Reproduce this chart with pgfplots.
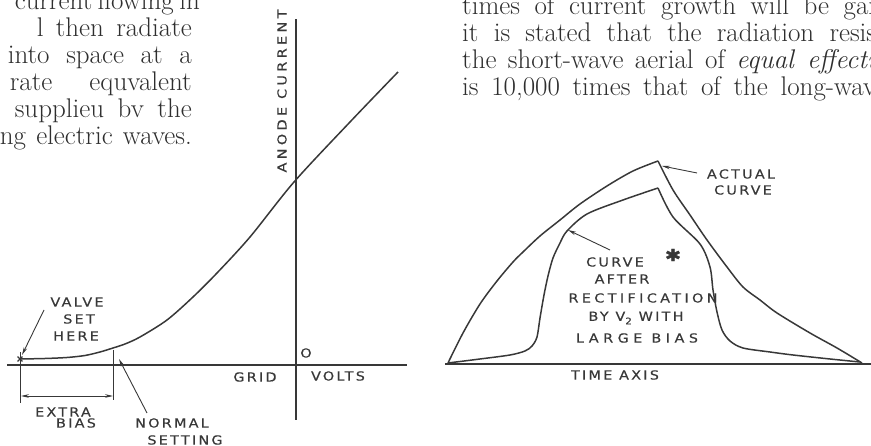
\documentclass[border=0pt]{standalone}
\usepackage{fontspec}
\usepackage{pgfplots}
\pgfplotsset{compat=1.18}
\usetikzlibrary{arrows.meta}

% hand-lettered caption style: wide, tracked capitals
\newfontfamily\labf[LetterSpace=18, FakeStretch=1.15, FakeBold=0.4]{DejaVu Sans}
\definecolor{ink}{HTML}{383838}
\definecolor{print}{HTML}{2E2E2E}
\newcommand\lab[1]{{\labf\fontsize{12.5}{12.5}\selectfont #1}}
\newcommand\wlab[1]{{\labf\fontsize{12.5}{12.5}\selectfont\addfontfeature{LetterSpace=27}#1}}
\newcommand\bodyfont{\fontsize{27}{27}\selectfont\addfontfeature{FakeBold=0.5}}

\begin{document}
\begin{tikzpicture}[x=1pt,y=1pt,
  arr/.style={ink, line width=0.9pt, -{Stealth[length=8pt,width=3.6pt]}},
  txt/.style={inner sep=0pt, text=print},
  lb/.style={inner sep=0pt, text=ink}]
\useasboundingbox (0,0) rectangle (871,446);

% ---------------- column text ----------------
\begin{scope}
\clip (0,0) rectangle (871,446);
\node[txt, anchor=base east] at (192,436) {\bodyfont\makebox[177pt][s]{current flowing in}};
\node[txt, anchor=base east] at (192,409) {\bodyfont\makebox[155pt][s]{l then radiate}};
\node[txt, anchor=base east] at (192,382) {\bodyfont\makebox[184pt][s]{into space at a}};
\node[txt, anchor=base east] at (192,355) {\bodyfont\makebox[182pt][s]{rate equvalent}};
\node[txt, anchor=base east] at (192,328) {\bodyfont\makebox[177pt][s]{supplieu bv the}};
\node[txt, anchor=base east] at (192,301) {\bodyfont\makebox[192pt][s]{ng electric waves.}};

\node[txt, anchor=base west] at (462,431) {\bodyfont\makebox[413pt][s]{times of current growth will be gai}};
\node[txt, anchor=base west] at (462,404) {\bodyfont\makebox[414pt][s]{it is stated that the radiation resis}};
\node[txt, anchor=base west] at (462,377) {\bodyfont\makebox[413pt][s]{the short-wave aerial of \itshape equal effecti}};
\node[txt, anchor=base west] at (462,350) {\bodyfont\makebox[414pt][s]{is {\addfontfeature{Numbers=OldStyle}10,000} times that of the long-wav}};
\end{scope}

% ---------------- grid-volts / anode-current characteristic ----------------
\begin{axis}[
  at={(7pt,26pt)}, anchor=south west,
  x=1pt, y=1pt,
  xmin=-289, xmax=111, ymin=-55, ymax=346,
  axis lines=middle,
  axis line style={ink, line width=1.2pt, -},
  xtick=\empty, ytick=\empty,
  clip=false,
]
\addplot[ink, line width=1.5pt, smooth] coordinates {
  (-276,6) (-251,6.5) (-229,7.5) (-211,9.5) (-196,13) (-183,17)
  (-171,21) (-156,28) (-129,45) (-103,68) (-79,92) (-46,128)
  (-2,183) (54,243) (102,293)
};
% operating point with the extra bias applied
\addplot[ink, only marks, mark=x, mark size=3.5pt,
  mark options={line width=1.1pt}] coordinates {(-276,6)};
\end{axis}

% ---------------- rectified pulse ----------------
\begin{axis}[
  at={(445pt,82pt)}, anchor=south west,
  x=1pt, y=1pt,
  xmin=-3, xmax=426, ymin=0, ymax=210,
  axis x line=middle, axis y line=none,
  axis line style={ink, line width=1.2pt, -},
  xtick=\empty, ytick=\empty,
  clip=false,
]
% actual curve: rise and fall meet at a sharp crest
\addplot[ink, line width=1.5pt, smooth] coordinates {
  (0,1) (15,31) (32,60) (49,83) (65,102) (75,112) (92,128) (112,144)
  (132,160) (159,178) (185,193) (210,203)
};
\addplot[ink, line width=1.5pt, smooth] coordinates {
  (210,203) (225,174) (242,149) (259,124) (279,97) (295,77) (312,64)
  (329,51) (362,31) (389,16) (414,1)
};
% curve after rectification
\addplot[ink, line width=1.5pt, smooth] coordinates {
  (0,1) (32,5) (62,9) (77,13) (84,18) (89,27) (92,46) (96,69) (100,88)
  (105,106) (112,121) (119,133) (139,150) (175,164) (210,176)
};
\addplot[ink, line width=1.5pt, smooth] coordinates {
  (210,176) (225,147) (252,120) (262,97) (265,74) (269,52) (274,34)
  (282,23) (295,16) (322,12) (345,9) (382,5) (412,2)
};
\end{axis}

% ---------------- annotations ----------------
\draw[arr] (44,136) -- (22,91);
\draw[ink, line width=0.8pt] (20.5,94) -- (20.5,43);
\draw[ink, line width=0.8pt] (113,96) -- (113,46);
\draw[ink, line width=0.8pt, {Stealth[length=8pt,width=3.6pt]}-{Stealth[length=8pt,width=3.6pt]}] (21,50) -- (113,50);
\draw[arr] (147,33) -- (119,87);
\draw[arr] (697,273) -- (662,280);
\draw[arr] (610,196) -- (568,216);

\node[lb, rotate=90] at (282,355) {\wlab{ANODE CURRENT}};
\node[lb] at (306,93) {\lab{O}};
\node[lb] at (255,69) {\lab{GRID}};
\node[lb] at (338,70) {\lab{VOLTS}};
\node[lb] at (77,144) {\lab{VALVE}};
\node[lb] at (79,127) {\lab{SET}};
\node[lb] at (76,110) {\lab{HERE}};
\node[lb] at (63,34) {\lab{EXTRA}};
\node[lb] at (76,23) {\lab{BIAS}};
\node[lb] at (172,23) {\lab{NORMAL}};
\node[lb] at (185,6) {\lab{SETTING}};

\node[lb] at (741,272) {\lab{ACTUAL}};
\node[lb] at (743,256) {\lab{CURVE}};
\node[lb] at (615,184) {\lab{CURVE}};
\node[lb] at (673,191) {{\labf\fontsize{17}{17}\selectfont ✱}};
\node[lb] at (622,167) {\lab{AFTER}};
\node[lb] at (643,148) {\wlab{RECTIFICATION}};
\node[lb] at (636,128) {\lab{BY V\raisebox{-3.5pt}{\fontsize{9}{9}\selectfont 2} WITH}};
\node[lb] at (637,108) {{\labf\fontsize{12.5}{12.5}\selectfont\addfontfeature{LetterSpace=36}LARGE BIAS}};
\node[lb] at (615,71) {\lab{TIME AXIS}};
\end{tikzpicture}
\end{document}
